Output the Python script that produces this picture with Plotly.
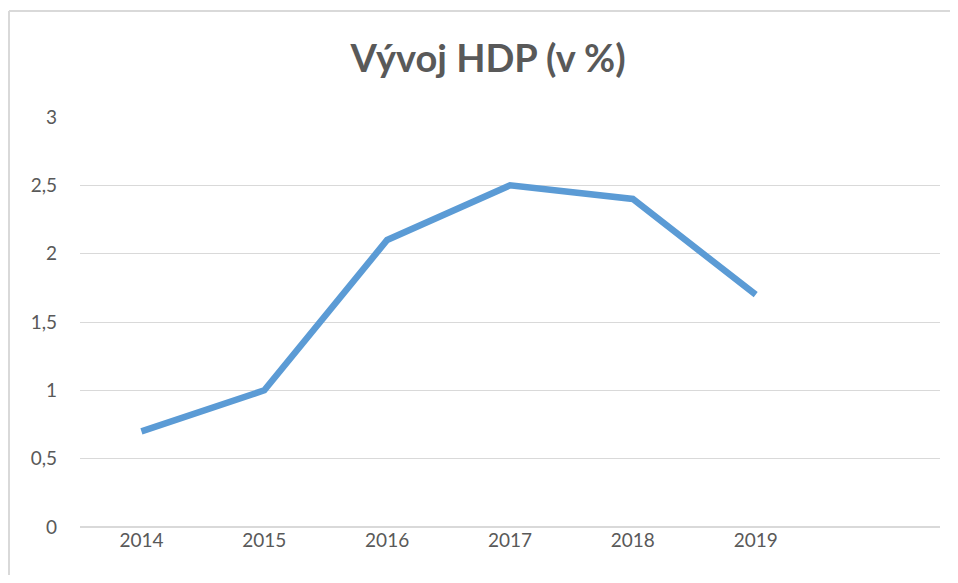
import plotly.graph_objects as go

years = [2014, 2015, 2016, 2017, 2018, 2019]
hdp = [0.7, 1.0, 2.1, 2.5, 2.4, 1.7]
tick_years = ["2014", "2015", "2016", "2017", "2018", "2019"]
y_ticks = [0, 0.5, 1, 1.5, 2, 2.5, 3]

# page body has an 8px margin, so figure coords are offset by 8px
W, H = 950, 567
L, R, T, B = 72, 18, 109, 48
PW, PH = W - L - R, H - T - B

fig = go.Figure()
fig.add_trace(go.Scatter(
    x=years, y=hdp, mode="lines",
    line=dict(color="#5B9BD5", width=6.5),
    showlegend=False, hoverinfo="x+y",
))

fig.update_layout(
    width=W, height=H,
    margin=dict(l=L, r=R, t=T, b=B),
    paper_bgcolor="white", plot_bgcolor="white",
    separators=",.",
    font=dict(family="Lato, 'Open Sans', sans-serif", color="#595959", size=19),
    title=dict(text="<b>Vývoj HDP (v %)</b>", x=480 / W, xanchor="center", y=1 - 51 / H, yanchor="middle",
               font=dict(size=38, color="#595959", family="Lato, 'Open Sans', sans-serif")),
    xaxis=dict(range=[2013.5, 2020.5], tickvals=years, ticktext=tick_years,
               showgrid=False, zeroline=False, showline=False, ticks="",
               tickfont=dict(size=19, color="#595959"), fixedrange=True),
    yaxis=dict(range=[0, 3], tickvals=y_ticks, showgrid=True, gridcolor="#d9d9d9", gridwidth=1,
               zeroline=True, zerolinecolor="#d9d9d9", zerolinewidth=1.5,
               showline=False, ticks="", ticklabelstandoff=22,
               tickfont=dict(size=19, color="#595959"), fixedrange=True),
    shapes=[
        dict(type="line", xref="paper", yref="paper",
             x0=(1 - L) / PW, x1=(1 - L) / PW, y0=-0.5, y1=1 + (T - 3) / PH,
             line=dict(color="#d9d9d9", width=2), layer="below"),
        dict(type="line", xref="paper", yref="paper",
             x0=(1 - L) / PW, x1=2, y0=1 + (T - 3) / PH, y1=1 + (T - 3) / PH,
             line=dict(color="#d9d9d9", width=2), layer="below"),
    ],
)

fig.write_html("out.html")
